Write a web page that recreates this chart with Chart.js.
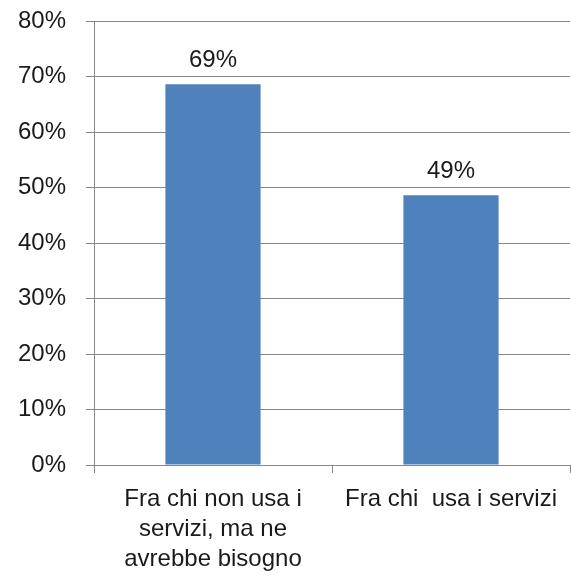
<!DOCTYPE html>
<html>
<head>
<meta charset="utf-8">
<script src="https://cdn.jsdelivr.net/npm/chart.js@4/dist/chart.umd.min.js"></script>
<style>
  html, body { margin: 0; padding: 0; background: #fff; }
  #wrap { width: 571px; height: 579px; position: relative; }
</style>
</head>
<body>
<div id="wrap"><canvas id="c" width="571" height="579"></canvas></div>
<script>
const categories = [
  ["Fra chi non usa i", "servizi, ma ne", "avrebbe bisogno"],
  ["Fra chi  usa i servizi"]
];
const values = [68.6, 48.6];
const valueLabels = ["69%", "49%"];
const yTicks = [0, 10, 20, 30, 40, 50, 60, 70, 80];

const FONT = "'Liberation Sans', Arial, Helvetica, sans-serif";
const GRID = '#868686';

const labelPlugin = {
  id: 'valueLabels',
  afterDatasetsDraw(chart) {
    const ctx = chart.ctx;
    const meta = chart.getDatasetMeta(0);
    ctx.save();
    ctx.font = '24px ' + FONT;
    ctx.fillStyle = '#1a1a1a';
    ctx.textAlign = 'center';
    ctx.textBaseline = 'alphabetic';
    meta.data.forEach((bar, i) => {
      ctx.fillText(valueLabels[i], bar.x, bar.y - 17);
    });
    ctx.restore();
  }
};

new Chart(document.getElementById('c'), {
  type: 'bar',
  data: {
    labels: categories,
    datasets: [{
      data: values,
      backgroundColor: '#4F81BD',
      borderWidth: 0,
      categoryPercentage: 1,
      barPercentage: 0.4
    }]
  },
  options: {
    responsive: false,
    animation: false,
    devicePixelRatio: 1,
    layout: { padding: { top: 21, right: 1, left: 0, bottom: 0 } },
    plugins: { legend: { display: false }, tooltip: { enabled: false } },
    scales: {
      x: {
        grid: {
          offset: true,
          drawOnChartArea: false,
          color: GRID,
          tickLength: 8
        },
        border: { display: true, color: GRID, width: 1 },
        ticks: {
          font: { family: FONT, size: 24, lineHeight: 1.25 },
          color: '#1a1a1a',
          padding: 11,
          maxRotation: 0,
          autoSkip: false
        },
        afterFit(scale) { scale.height = 114; scale.paddingLeft = 0; scale.paddingRight = 0; }
      },
      y: {
        min: 0,
        max: 80,
        afterBuildTicks(scale) { scale.ticks = yTicks.map(v => ({ value: v })); },
        grid: { color: GRID, tickLength: 8 },
        border: { display: true, color: GRID, width: 1 },
        ticks: {
          font: { family: FONT, size: 24 },
          color: '#1a1a1a',
          padding: 20,
          callback: v => v + '%'
        },
        afterFit(scale) { scale.width = 94; scale.paddingTop = 0; scale.paddingBottom = 0; }
      }
    }
  },
  plugins: [labelPlugin]
});
</script>
</body>
</html>
